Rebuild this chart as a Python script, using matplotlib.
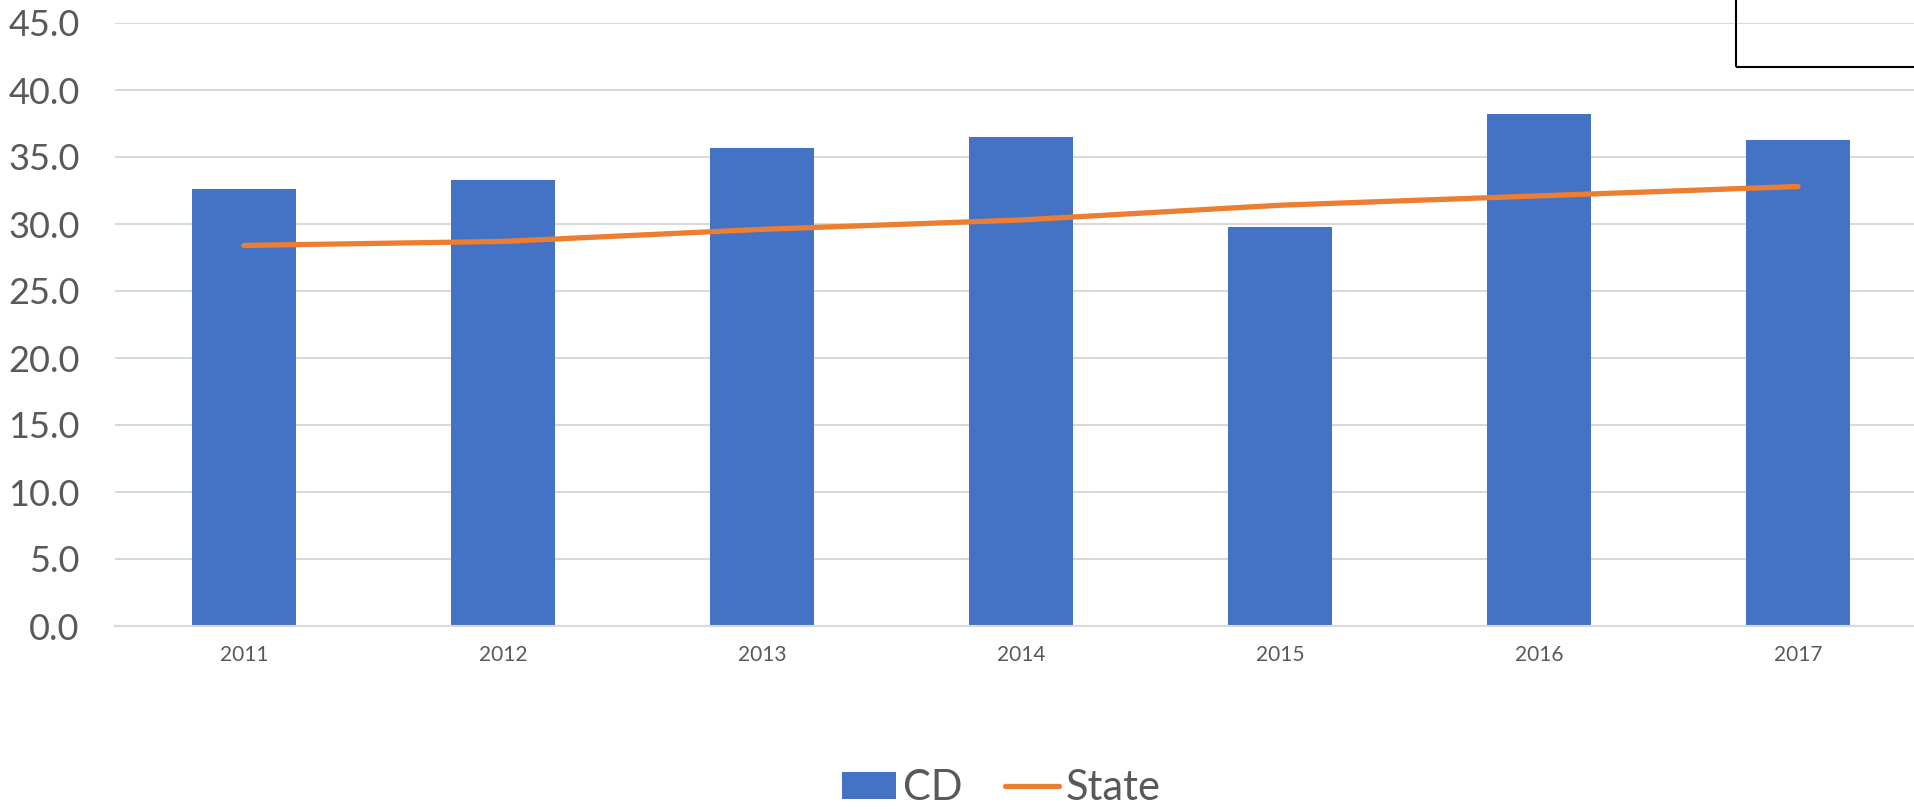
import numpy as np
import matplotlib
matplotlib.use('Agg')
import matplotlib.pyplot as plt
from matplotlib.patches import Rectangle

years = ['2011', '2012', '2013', '2014', '2015', '2016', '2017']
cd_values = [32.6, 33.3, 35.7, 36.5, 29.8, 38.2, 36.3]
state_values = [28.4, 28.7, 29.6, 30.3, 31.4, 32.1, 32.8]
y_ticks = [0, 5, 10, 15, 20, 25, 30, 35, 40, 45]

blue = '#4472C4'
orange = '#ED7D31'
grey_text = '#595959'
grid_col = '#D9D9D9'

plt.rcParams['font.family'] = ['Lato', 'DejaVu Sans']

W, H = 1914, 809
fig = plt.figure(figsize=(W / 100, H / 100), dpi=100)
# plot area runs slightly past the right edge
ax = fig.add_axes([114.5 / W, 1 - 626 / H, 1813 / W, 603 / H])

x = np.arange(len(years))
bars = ax.bar(x, cd_values, width=0.4, color=blue, zorder=2, label='CD')
line, = ax.plot(x, state_values, color=orange, lw=3.8, solid_capstyle='round',
                solid_joinstyle='round', zorder=3, label='State')

ax.set_xlim(-0.5, len(years) - 0.5)
ax.set_ylim(0, 45)
ax.set_yticks(y_ticks)
ax.set_yticklabels([f'{v:.1f}' for v in y_ticks])
ax.set_xticks(x)
ax.set_xticklabels(years)

ax.yaxis.grid(True, color=grid_col, lw=1.5, zorder=0)
ax.set_axisbelow(True)
for side in ['top', 'right', 'left']:
    ax.spines[side].set_visible(False)
ax.spines['bottom'].set_color(grid_col)
ax.spines['bottom'].set_linewidth(1.5)

ax.tick_params(axis='y', length=0, pad=25, labelsize=26, labelcolor=grey_text)
ax.tick_params(axis='x', length=0, pad=14, labelsize=15, labelcolor=grey_text)

# box outline in the top right corner
fig.patches.append(Rectangle((1736 / W, 1 - 67 / H), 0.2, 0.2,
                             transform=fig.transFigure, fill=False,
                             edgecolor='black', lw=1.5))

leg = fig.legend([bars, line], ['CD', 'State'], ncol=2, frameon=False, fontsize=30,
                 loc='center', bbox_to_anchor=(1001.5 / W, 1 - 788 / H),
                 handlelength=1.3, handleheight=0.62, handletextpad=0.17,
                 columnspacing=1.0, borderpad=0, borderaxespad=0)
for t in leg.get_texts():
    t.set_color(grey_text)

fig.savefig('out.png', dpi=100)
